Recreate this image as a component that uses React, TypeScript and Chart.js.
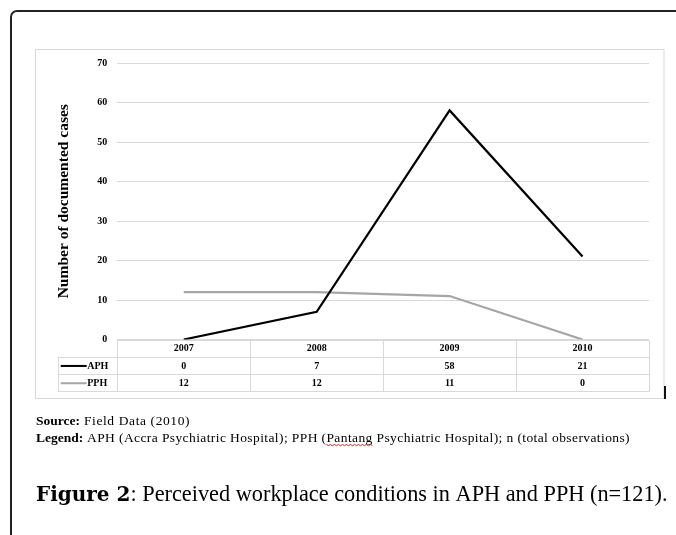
import React, { useEffect, useRef } from "react";
import { Chart, registerables } from "chart.js";

Chart.register(...registerables);

const categories = ["2007", "2008", "2009", "2010"];
const aphValues = [0, 7, 58, 21];
const pphValues = [12, 12, 11, 0];
const seriesNames = ["APH", "PPH"];
const seriesColors = ["#000000", "#a6a6a6"];
const yMax = 70;
const yStep = 10;
const yTitle = "Number of documented cases";
const sourceBold = "Source:";
const sourceText = " Field Data (2010)";
const legendBold = "Legend:";
const legendText =
  " APH (Accra Psychiatric Hospital); PPH (Pantang Psychiatric Hospital); n (total observations)";
const captionBold = "Figure 2";
const captionText = ": Perceived workplace conditions in APH and PPH (n=121).";

const W = 676;
const H = 535;
const FRAME = { l: 35.5, t: 49.5, r: 664, b: 398.5 };
const GRID = "#d9d9d9";
const SERIF = "'Liberation Serif', 'Times New Roman', serif";

type Run = { t: string; font: string; ls: number };

const decorPlugin = {
  id: "decor",
  beforeDraw(chart: any) {
    const ctx = chart.ctx;
    ctx.save();
    ctx.fillStyle = "#fff";
    ctx.fillRect(0, 0, W, H);
    const r = 6;
    const x0 = 11;
    const y0 = 11;
    ctx.strokeStyle = "#222";
    ctx.lineWidth = 2;
    ctx.beginPath();
    ctx.moveTo(x0, H);
    ctx.lineTo(x0, y0 + r);
    ctx.arcTo(x0, y0, x0 + r, y0, r);
    ctx.lineTo(W, y0);
    ctx.stroke();
    ctx.strokeStyle = GRID;
    ctx.lineWidth = 1;
    ctx.strokeRect(FRAME.l, FRAME.t, FRAME.r - FRAME.l, FRAME.b - FRAME.t);
    ctx.restore();
  },
  afterDraw(chart: any) {
    const ctx = chart.ctx;
    const area = chart.chartArea;
    const xs = chart.scales.x;
    const n = categories.length;
    const colW = (area.right - area.left) / n;
    const rowH = 17.3;
    const top = area.bottom;
    const legendLeft = 57.7;
    ctx.save();
    ctx.strokeStyle = GRID;
    ctx.lineWidth = 1;
    const rows = [top, top + rowH, top + 2 * rowH, top + 3 * rowH];
    rows.forEach((y, i) => {
      ctx.beginPath();
      ctx.moveTo(i === 0 ? area.left : legendLeft, Math.round(y) + 0.5);
      ctx.lineTo(area.right, Math.round(y) + 0.5);
      ctx.stroke();
    });
    for (let i = 0; i <= n; i++) {
      const x = Math.round(area.left + i * colW) + 0.5;
      ctx.beginPath();
      ctx.moveTo(x, Math.round(top) + 0.5);
      ctx.lineTo(x, Math.round(top + 3 * rowH) + 0.5);
      ctx.stroke();
    }
    ctx.beginPath();
    ctx.moveTo(Math.round(legendLeft) + 0.5, Math.round(top + rowH) + 0.5);
    ctx.lineTo(Math.round(legendLeft) + 0.5, Math.round(top + 3 * rowH) + 0.5);
    ctx.stroke();

    ctx.fillStyle = "#000";
    ctx.font = `bold 10px ${SERIF}`;
    ctx.textAlign = "center";
    ctx.textBaseline = "middle";
    categories.forEach((c, i) => {
      ctx.fillText(c, xs.getPixelForValue(i), top + rowH / 2 + 0.5);
    });
    const series = [aphValues, pphValues];
    series.forEach((vals, s) => {
      const cy = top + rowH * (s + 1) + rowH / 2 + 0.5;
      vals.forEach((v, i) => {
        ctx.fillText(String(v), xs.getPixelForValue(i), cy);
      });
      ctx.strokeStyle = seriesColors[s];
      ctx.lineWidth = 2;
      ctx.beginPath();
      ctx.moveTo(legendLeft + 3, cy);
      ctx.lineTo(legendLeft + 29, cy);
      ctx.stroke();
      ctx.textAlign = "left";
      ctx.fillText(seriesNames[s], legendLeft + 29.5, cy);
      ctx.textAlign = "center";
    });

    ctx.fillStyle = "#111";
    ctx.fillRect(FRAME.r, 386, 2, 13);

    const drawRuns = (runs: Run[], x: number, y: number) => {
      let cx = x;
      const pos: number[] = [];
      runs.forEach((r) => {
        ctx.font = r.font;
        ctx.letterSpacing = `${r.ls}px`;
        pos.push(cx);
        ctx.fillText(r.t, cx, y);
        cx += ctx.measureText(r.t).width;
      });
      ctx.letterSpacing = "0px";
      return pos;
    };
    ctx.textAlign = "left";
    ctx.textBaseline = "alphabetic";
    ctx.fillStyle = "#000";
    const noteBold = `bold 13.5px ${SERIF}`;
    const noteNorm = `13.5px ${SERIF}`;
    drawRuns(
      [
        { t: sourceBold, font: noteBold, ls: 0 },
        { t: sourceText, font: noteNorm, ls: 0.6 },
      ],
      36,
      424.5
    );
    const lp = drawRuns(
      [
        { t: legendBold, font: noteBold, ls: 0 },
        { t: legendText, font: noteNorm, ls: 0.4 },
      ],
      36,
      441.5
    );
    ctx.font = noteNorm;
    ctx.letterSpacing = "0.4px";
    const before = legendText.indexOf("Pantang");
    const sx = lp[1] + ctx.measureText(legendText.slice(0, before)).width;
    const sw = ctx.measureText("Pantang").width;
    ctx.letterSpacing = "0px";
    ctx.strokeStyle = "#d22";
    ctx.lineWidth = 1;
    ctx.beginPath();
    for (let x = 0; x <= sw; x += 2) {
      const y = 444.5 + ((x / 2) % 2 === 0 ? 0 : 1.2);
      if (x === 0) ctx.moveTo(sx + x, y);
      else ctx.lineTo(sx + x, y);
    }
    ctx.stroke();

    ctx.fillStyle = "#000";
    drawRuns(
      [
        { t: captionBold, font: `bold 20px 'DejaVu Serif', serif`, ls: 0 },
        { t: captionText, font: `22.3px ${SERIF}`, ls: 0 },
      ],
      36,
      501
    );
    ctx.restore();
  },
};

export default function App() {
  const ref = useRef<HTMLCanvasElement | null>(null);
  useEffect(() => {
    if (!ref.current) return;
    const chart = new Chart(ref.current, {
      type: "line",
      data: {
        labels: categories,
        datasets: [
          {
            label: seriesNames[0],
            data: aphValues,
            borderColor: seriesColors[0],
            backgroundColor: seriesColors[0],
            borderWidth: 2.2,
            pointRadius: 0,
            tension: 0,
          },
          {
            label: seriesNames[1],
            data: pphValues,
            borderColor: seriesColors[1],
            backgroundColor: seriesColors[1],
            borderWidth: 2.2,
            pointRadius: 0,
            tension: 0,
          },
        ],
      },
      options: {
        responsive: false,
        animation: false,
        devicePixelRatio: 1,
        layout: { padding: { left: 36, top: 63, right: 27, bottom: 195.5 } },
        plugins: { legend: { display: false }, tooltip: { enabled: false } },
        scales: {
          x: { type: "category", offset: true, display: false },
          y: {
            min: 0,
            max: yMax,
            ticks: {
              stepSize: yStep,
              padding: 10,
              color: "#000",
              font: { family: SERIF, size: 10, weight: "bold" },
            },
            grid: { color: GRID, drawTicks: false, lineWidth: 1 },
            border: { display: false },
            title: {
              display: true,
              text: yTitle,
              color: "#000",
              font: { family: SERIF, size: 15.5, weight: "bold" },
              padding: { top: 18.5, bottom: 0 },
            },
            afterFit: (s: any) => {
              s.width = 81.3;
            },
          },
        },
      },
      plugins: [decorPlugin],
    });
    return () => chart.destroy();
  }, []);
  return (
    <div style={{ position: "absolute", left: 0, top: 0, width: W, height: H }}>
      <canvas ref={ref} width={W} height={H} style={{ display: "block" }} />
    </div>
  );
}
